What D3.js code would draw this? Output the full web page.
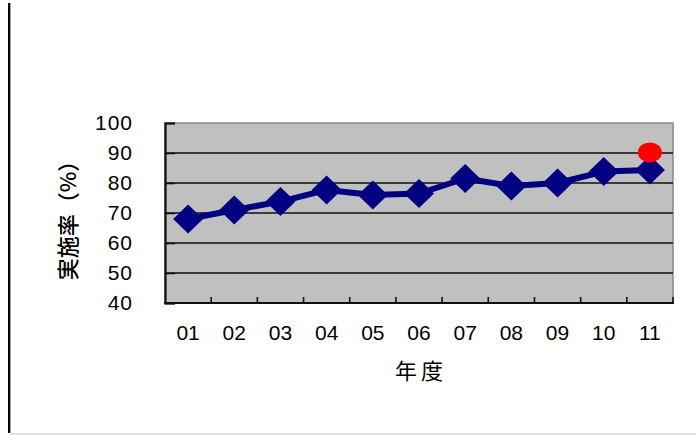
<!DOCTYPE html>
<html><head><meta charset="utf-8">
<script src="https://cdn.jsdelivr.net/npm/d3@7"></script>
<style>body{margin:0;background:#fff}svg{display:block}</style>
</head><body>
<svg id="c" width="696" height="435"></svg>
<script>
const years = ["01","02","03","04","05","06","07","08","09","10","11"];
const rates = [68, 71, 73.8, 77.7, 76, 76.5, 81.5, 79, 80, 83.8, 84.3];
const targetYear = "11";
const targetValue = 90.2;
const yTicks = [40, 50, 60, 70, 80, 90, 100];
const yTitle = "実施率（%）";
const xTitle = "年度";

const svg = d3.select("#c");
const W = 696, H = 435;
const plot = {l: 165, r: 673, t: 123, b: 303};

// frame
svg.append("line").attr("x1", W).attr("x2", 10).attr("y1", 434).attr("y2", 434)
  .attr("stroke", "#e0e0e0").attr("stroke-width", 2);
svg.append("line").attr("x1", 9).attr("x2", 9).attr("y1", 3).attr("y2", 433)
  .attr("stroke", "#000").attr("stroke-width", 2);
svg.append("line").attr("x1", 10.5).attr("x2", 10.5).attr("y1", 3).attr("y2", 433)
  .attr("stroke", "#aaa").attr("stroke-width", 1);

const x = d3.scaleBand().domain(years).range([plot.l, plot.r]).padding(0);
const y = d3.scaleLinear().domain([40, 100]).range([plot.b, plot.t]);

svg.append("rect").attr("x", plot.l).attr("y", plot.t)
  .attr("width", plot.r - plot.l).attr("height", plot.b - plot.t)
  .attr("fill", "#c0c0c0").attr("stroke", "#888").attr("stroke-width", 1.5);

// gridlines
svg.append("g").selectAll("line").data(yTicks.filter(v => v > 40 && v < 100)).join("line")
  .attr("x1", plot.l).attr("x2", plot.r)
  .attr("y1", d => y(d)).attr("y2", d => y(d))
  .attr("stroke", "#111").attr("stroke-width", 1.6);

// y axis
const yAxis = d3.axisLeft(y).tickValues(yTicks).tickSize(-10).tickFormat(d3.format("d")).tickPadding(32);
const gy = svg.append("g").attr("transform", `translate(${plot.l},0)`).call(yAxis);
gy.select(".domain").attr("stroke", "#111").attr("stroke-width", 2.2);
gy.selectAll(".tick line").attr("stroke", "#111").attr("stroke-width", 1.6);
gy.selectAll(".tick text").attr("font-family", "Liberation Sans, Arial, sans-serif")
  .attr("font-size", 21).attr("letter-spacing", 1).attr("fill", "#000").attr("dx", 0);

// x axis with ticks between categories
const boundaries = d3.range(0, years.length + 1).map(i => plot.l + i * x.bandwidth());
svg.append("line").attr("x1", plot.l - 1).attr("x2", plot.r + 1)
  .attr("y1", plot.b).attr("y2", plot.b).attr("stroke", "#111").attr("stroke-width", 2.2);
svg.append("g").selectAll("line").data(boundaries.slice(1)).join("line")
  .attr("x1", d => d).attr("x2", d => d).attr("y1", plot.b).attr("y2", plot.b - 6)
  .attr("stroke", "#111").attr("stroke-width", 1.6);
svg.append("g").selectAll("text").data(years).join("text")
  .attr("x", d => x(d) + x.bandwidth() / 2).attr("y", 339.5)
  .attr("text-anchor", "middle")
  .attr("font-family", "Liberation Sans, Arial, sans-serif").attr("font-size", 21)
  .attr("fill", "#000").text(d => d);

// titles
svg.append("text").attr("x", (plot.l + plot.r) / 2 + 2).attr("y", 379)
  .attr("text-anchor", "middle").attr("font-family", "Noto Sans CJK JP")
  .attr("font-size", 22).attr("letter-spacing", 4).text(xTitle);
svg.append("text").attr("transform", "translate(76,215) rotate(-90)")
  .attr("text-anchor", "middle").attr("font-family", "Noto Sans CJK JP")
  .attr("font-size", 22).attr("font-weight", 500).text(yTitle);

// series line
const line = d3.line().x((d, i) => x(years[i]) + x.bandwidth() / 2).y(d => y(d));
svg.append("path").datum(rates).attr("d", line)
  .attr("fill", "none").attr("stroke", "#000080").attr("stroke-width", 6)
  .attr("stroke-linejoin", "round");

const diamond = {
  draw(ctx, size) {
    const w = 15, h = 14.5;
    ctx.moveTo(0, -h); ctx.lineTo(w, 0); ctx.lineTo(0, h); ctx.lineTo(-w, 0); ctx.closePath();
  }
};
svg.append("g").selectAll("path").data(rates).join("path")
  .attr("transform", (d, i) => `translate(${x(years[i]) + x.bandwidth() / 2},${y(d)})`)
  .attr("d", d3.symbol().type(diamond)())
  .attr("fill", "#000080");

// target point
svg.append("ellipse")
  .attr("cx", x(targetYear) + x.bandwidth() / 2).attr("cy", y(targetValue))
  .attr("rx", 12).attr("ry", 10).attr("fill", "#ff0000");
</script>
</body></html>
